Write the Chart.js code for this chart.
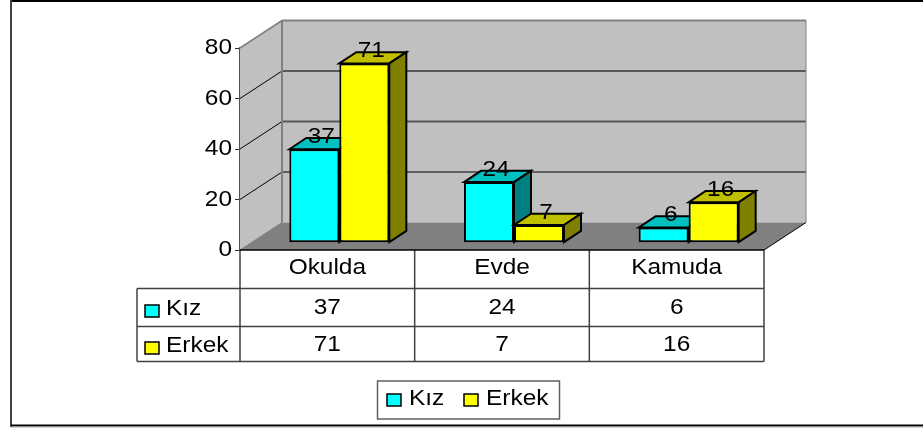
<!DOCTYPE html>
<html>
<head>
<meta charset="utf-8">
<style>
  html, body { margin: 0; padding: 0; background: #fff; }
  canvas { display: block; }
</style>
<script src="https://cdn.jsdelivr.net/npm/chart.js@4"></script>
</head>
<body>
<canvas id="myChart" width="923" height="429"></canvas>
<script>
const categories = ["Okulda", "Evde", "Kamuda"];
const kiz = [37, 24, 6];
const erkek = [71, 7, 16];
const yTicks = [0, 20, 40, 60, 80];

const FONT = "22px 'Liberation Sans', Arial, sans-serif";
const STRETCH = 1.11;   // the original picture is wider than it should be
const wall = { dx: 42, dy: -27.5 };
const barShift = { dx: 12, dy: -7.3 };
const barDepth = { dx: 17, dy: -11.3 };
const faces = [
  { top: "#00c0c0", side: "#008080" },
  { top: "#c0c000", side: "#808000" }
];

function text(ctx, str, x, y, align) {
  ctx.save();
  ctx.translate(x, y);
  ctx.scale(STRETCH, 1);
  ctx.font = FONT;
  ctx.fillStyle = "#000";
  ctx.textAlign = align || "center";
  ctx.textBaseline = "middle";
  ctx.fillText(str, 0, 0);
  ctx.restore();
}

function poly(ctx, pts, fill, stroke, lw) {
  ctx.beginPath();
  pts.forEach(([x, y], i) => i ? ctx.lineTo(x, y) : ctx.moveTo(x, y));
  ctx.closePath();
  if (fill) { ctx.fillStyle = fill; ctx.fill(); }
  if (stroke) { ctx.strokeStyle = stroke; ctx.lineWidth = lw; ctx.stroke(); }
}

function line(ctx, x1, y1, x2, y2, color, lw) {
  ctx.beginPath();
  ctx.moveTo(x1, y1);
  ctx.lineTo(x2, y2);
  ctx.strokeStyle = color;
  ctx.lineWidth = lw;
  ctx.stroke();
}

function swatch(ctx, x, y, w, h, color) {
  ctx.fillStyle = color;
  ctx.fillRect(x, y, w, h);
  ctx.strokeStyle = "#000";
  ctx.lineWidth = 1.5;
  ctx.strokeRect(x, y, w, h);
}

const box3d = {
  id: "box3d",
  beforeDatasetsDraw(chart) {
    const ctx = chart.ctx;
    const a = chart.chartArea;
    const y = chart.scales.y;
    const bx = a.left + wall.dx, rx = a.right + wall.dx;
    const top = a.top + wall.dy, zero = a.bottom + wall.dy;

    poly(ctx, [[a.left, a.top], [bx, top], [bx, zero], [a.left, a.bottom]], "#c0c0c0");
    poly(ctx, [[bx, top], [rx, top], [rx, zero], [bx, zero]], "#c0c0c0");
    poly(ctx, [[a.left, a.bottom], [bx, zero], [rx, zero], [a.right, a.bottom]], "#808080");

    yTicks.slice(1, -1).forEach(v => {
      let py = y.getPixelForValue(v);
      let c = v === 20 ? "#000" : "#585858";
      line(ctx, a.left, py, bx, py + wall.dy, "#000", 1);
      line(ctx, bx, py + wall.dy, rx, py + wall.dy, c, v === 20 ? 1 : 2);
    });
    line(ctx, a.left, a.top, bx, top, "#808080", 1.5);
    line(ctx, bx, top, rx, top, "#808080", 2);
    line(ctx, bx, top, bx, zero, "#808080", 2);
    line(ctx, rx, top, rx, zero, "#808080", 1);
    line(ctx, bx, zero, a.left, a.bottom, "#808080", 1);
    line(ctx, a.right, a.bottom, rx, zero, "#000", 1);

    // chart.js paints the last dataset first, here Erkek has to come over Kız
    chart.data.datasets.forEach((ds, i) => {
      let f = faces[i];
      let d = barDepth;
      ctx.save();
      ctx.translate(barShift.dx, barShift.dy);
      chart.getDatasetMeta(i).data.forEach(el => {
        let l = el.x - el.width / 2, r = el.x + el.width / 2;
        poly(ctx, [[l, el.y], [l + d.dx, el.y + d.dy], [r + d.dx, el.y + d.dy], [r, el.y]], f.top, "#000", 2);
        poly(ctx, [[r, el.y], [r + d.dx, el.y + d.dy], [r + d.dx, el.base + d.dy], [r, el.base]], f.side, "#000", 2);
        el.draw(ctx);
      });
      ctx.restore();
    });

    chart.data.datasets.forEach((ds, i) => {
      chart.getDatasetMeta(i).data.forEach((el, j) => {
        text(ctx, String(ds.data[j]), el.x + barShift.dx + 7, el.y + barShift.dy - 12.5);
      });
    });
    return false;
  }
};

const dataTable = {
  id: "dataTable",
  afterDraw(chart) {
    const ctx = chart.ctx;
    const a = chart.chartArea;
    const x = chart.scales.x;
    const y = chart.scales.y;
    const c = "#404040";
    const rows = [288.5, 326.5, 361.5];
    const left = 137;
    const colW = (a.right - a.left) / categories.length;

    // outer frame of the picture, there is no right side
    line(ctx, 11, 1, 923, 1, "#000", 2);
    line(ctx, 11, 0, 11, 427, "#404040", 2);
    line(ctx, 11, 425.5, 923, 425.5, "#000", 2);
    line(ctx, 11, 427, 923, 427, "#a0a0a0", 1);

    yTicks.forEach(v => text(ctx, String(v), 232, y.getPixelForValue(v), "right"));

    rows.forEach(r => line(ctx, left, r, a.right, r, c, 1.5));
    line(ctx, left, rows[0], left, rows[2], c, 1.5);
    for (let i = 0; i <= categories.length; i++) {
      let px = a.left + i * colW;
      line(ctx, px, a.bottom, px, rows[2], c, 1.5);
    }
    line(ctx, a.left, a.bottom, a.right, a.bottom, "#000", 1.5);

    categories.forEach((name, i) => {
      let px = x.getPixelForValue(i);
      text(ctx, name, px, 268);
      text(ctx, String(kiz[i]), px, 308);
      text(ctx, String(erkek[i]), px, 345);
    });

    chart.data.datasets.forEach((ds, i) => {
      let ry = i === 0 ? 309 : 346;
      swatch(ctx, 145, ry - 4, 14, 12, ds.backgroundColor);
      text(ctx, ds.label, 166, ry, "left");
    });

    // legend box under the table
    ctx.strokeStyle = "#606060";
    ctx.lineWidth = 1.5;
    ctx.strokeRect(377.5, 381, 182, 38);
    swatch(ctx, 387, 394, 14, 12, chart.data.datasets[0].backgroundColor);
    text(ctx, chart.data.datasets[0].label, 409, 399, "left");
    swatch(ctx, 464, 394, 14, 12, chart.data.datasets[1].backgroundColor);
    text(ctx, chart.data.datasets[1].label, 486, 399, "left");
  }
};

new Chart(document.getElementById("myChart"), {
  type: "bar",
  data: {
    labels: categories,
    datasets: [
      { label: "Kız", data: kiz, backgroundColor: "#00ffff" },
      { label: "Erkek", data: erkek, backgroundColor: "#ffff00" }
    ]
  },
  options: {
    responsive: false,
    animation: false,
    layout: { padding: { top: 48, right: 159, left: 0, bottom: 0 } },
    datasets: {
      bar: {
        clip: false,
        barPercentage: 1,
        categoryPercentage: 0.5725,
        borderColor: "#000",
        borderWidth: 2,
        borderSkipped: false
      }
    },
    plugins: {
      legend: { display: false },
      tooltip: { enabled: false },
      title: { display: false }
    },
    scales: {
      x: {
        afterFit: s => { s.height = 179; },
        ticks: { display: false },
        grid: { display: false },
        border: { display: false }
      },
      y: {
        min: 0,
        max: 80,
        afterFit: s => { s.width = 240; },
        ticks: { stepSize: 20, color: "transparent", font: { size: 20 } },
        grid: { drawOnChartArea: false, color: "#303030", tickLength: 5 },
        border: { color: "#505050", width: 1.5 }
      }
    }
  },
  plugins: [box3d, dataTable]
});
</script>
</body>
</html>
